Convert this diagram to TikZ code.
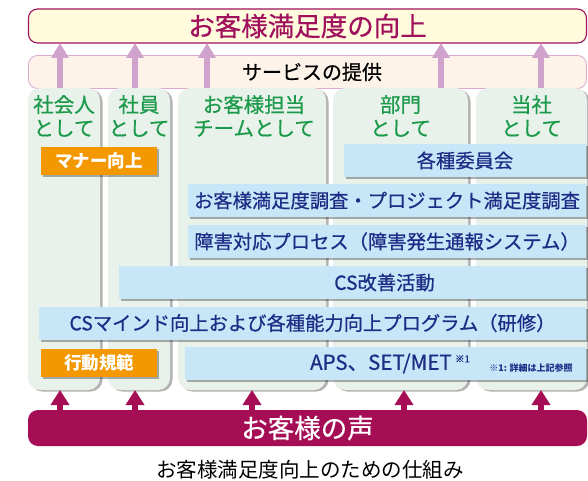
\documentclass[tikz,border=0pt]{standalone}
\usepackage{fontspec}
\setmainfont{Noto Sans CJK JP}
\newfontfamily\jpm[FakeBold=0.6]{Noto Sans CJK JP}
\usetikzlibrary{arrows.meta,shadows}
\definecolor{cMag}{HTML}{A0105C}
\definecolor{cYel}{HTML}{FFFBDC}
\definecolor{cSvc}{HTML}{FDF3E9}
\definecolor{cSvcB}{HTML}{D9AACD}
\definecolor{cPur}{HTML}{CFA3CB}
\definecolor{cGreen}{HTML}{E8F2EA}
\definecolor{cGreenT}{HTML}{1C9A4B}
\definecolor{cOr}{HTML}{F39800}
\definecolor{cBlue}{HTML}{C7E6F8}
\definecolor{cNavy}{HTML}{1D2C85}
\definecolor{cVoice}{HTML}{A50D55}
\begin{document}
\begin{tikzpicture}[x=1pt,y=-1pt,
  base/.style={inner sep=0pt, outer sep=0pt},
  goalbox/.style={base, draw=cMag, line width=1.1pt, fill=cYel, rounded corners=9pt, text=cMag, font=\jpm\fontsize{26.5}{28}\selectfont},
  svcbox/.style={base, draw=cSvcB, line width=0.8pt, fill=cSvc, rounded corners=9pt},
  colbox/.style={base, fill=cGreen, rounded corners=12pt, minimum height=302pt,
     drop shadow={shadow xshift=2.5pt, shadow yshift=-1.5pt, fill=black, opacity=0.3}},
  coltext/.style={base, text=cGreenT, align=center, font=\jpm\fontsize{20.5}{23.5}\selectfont},
  orbox/.style={base, fill=cOr, minimum width=116pt, minimum height=28pt, text=white,
     font=\bfseries\fontsize{17.5}{20}\selectfont,
     drop shadow={shadow xshift=2pt, shadow yshift=-2pt, fill=black, opacity=0.3}},
  bluebox/.style={base, fill=cBlue, minimum height=33pt,
     drop shadow={shadow xshift=2pt, shadow yshift=-2pt, fill=black, opacity=0.3}},
  bluetext/.style={base, text=cNavy, font=\jpm\fontsize{19.3}{20}\selectfont},
  parrow/.style={draw=cPur, line width=6pt, -{Triangle[width=17pt,length=15pt]}},
  marrow/.style={draw=cVoice, line width=6pt, -{Triangle[width=18pt,length=15pt]}},
]
\useasboundingbox (0,0) rectangle (588,481);

% top goal and service layer
\node[goalbox, minimum width=558pt, minimum height=34pt] (goal) at (307.5,26) {お客様満足度の向上};
\node[svcbox, minimum width=558pt, minimum height=33pt] (svc) at (307.5,72) {};
\node[base, font=\jpm\fontsize{20}{22}\selectfont] (svctxt) at (312,72) {サービスの提供};

% columns
\node[colbox, minimum width=72pt]  (c1) at (64,239) {};
\node[colbox, minimum width=62pt]  (c2) at (139,239) {};
\node[colbox, minimum width=148pt] (c3) at (252,239) {};
\node[colbox, minimum width=135pt] (c4) at (400.5,239) {};
\node[colbox, minimum width=111pt] (c5) at (531.5,239) {};

\node[coltext] (h1) at (64,116) {社会人\\として};
\node[coltext] (h2) at (139,116) {社員\\として};
\node[coltext] (h3) at (254,116) {お客様担当\\チームとして};
\node[coltext] (h4) at (400.5,116) {部門\\として};
\node[coltext] (h5) at (531.5,116) {当社\\として};

% arrow x positions
\coordinate (pa1) at (60,0);
\coordinate (pa2) at (135,0);
\coordinate (pa3) at (207,0);
\coordinate (pa4) at (441,0);
\coordinate (pa5) at (541,0);
\coordinate (ma1) at (60,0);
\coordinate (ma2) at (135,0);
\coordinate (ma3) at (252,0);
\coordinate (ma4) at (404,0);
\coordinate (ma5) at (541,0);

\draw[parrow] (c1.north -| pa1) -- (goal.south -| pa1);
\draw[parrow] (c2.north -| pa2) -- (goal.south -| pa2);
\draw[parrow] (c3.north -| pa3) -- (goal.south -| pa3);
\draw[parrow] (c4.north -| pa4) -- (goal.south -| pa4);
\draw[parrow] (c5.north -| pa5) -- (goal.south -| pa5);

% orange boxes
\node[orbox] (manner) at (99,161) {マナー向上};
\node[orbox] (kodo) at (99,363) {行動規範};

% blue boxes
\node[bluebox, minimum width=242pt] (iinkai) at (465,160.5) {};
\node[bluetext] at (iinkai.center) {各種委員会};
\node[bluebox, minimum width=398pt] (chosa) at (387,200.5) {};
\node[bluetext] at (chosa.center) {お客様満足度調査・プロジェクト満足度調査};
\node[bluebox, minimum width=398pt] (shogai) at (387,241.5) {};
\node[bluetext] at (shogai.center) {障害対応プロセス（障害発生通報システム）};
\node[bluebox, minimum width=467pt] (kaizen) at (352.5,282.5) {};
\node[bluetext] at (384.5,282.5) {CS改善活動};
\node[bluebox, minimum width=547pt] (mind) at (312.5,323) {};
\node[bluetext] at (mind.center) {CSマインド向上および各種能力向上プログラム（研修）};
\node[bluebox, minimum width=401pt] (aps) at (385.5,363.5) {};
\node[bluetext, font=\jpm\fontsize{20.5}{21}\selectfont] (apstxt) at (390,363.5) {APS、SET/MET\,\raisebox{7.5pt}{\fontsize{9.5}{10}\selectfont ※1}};
\node[base, text=cNavy, font=\bfseries\fontsize{9}{10}\selectfont] (note) at (531,368) {※1: 詳細は上記参照};

% voice of customer
\node[base, fill=cVoice, rounded corners=10pt, minimum width=559pt, minimum height=36pt, text=white,
  font=\jpm\fontsize{26.5}{28}\selectfont] (voice) at (307.5,428) {お客様の声};

\draw[marrow] (voice.north -| ma1) -- (c1.south -| ma1);
\draw[marrow] (voice.north -| ma2) -- (c2.south -| ma2);
\draw[marrow] (voice.north -| ma3) -- (c3.south -| ma3);
\draw[marrow] (voice.north -| ma4) -- (c4.south -| ma4);
\draw[marrow] (voice.north -| ma5) -- (c5.south -| ma5);

\node[base, font=\fontsize{20.5}{22}\selectfont] (caption) at (310,470) {お客様満足度向上のための仕組み};
\end{tikzpicture}
\end{document}
